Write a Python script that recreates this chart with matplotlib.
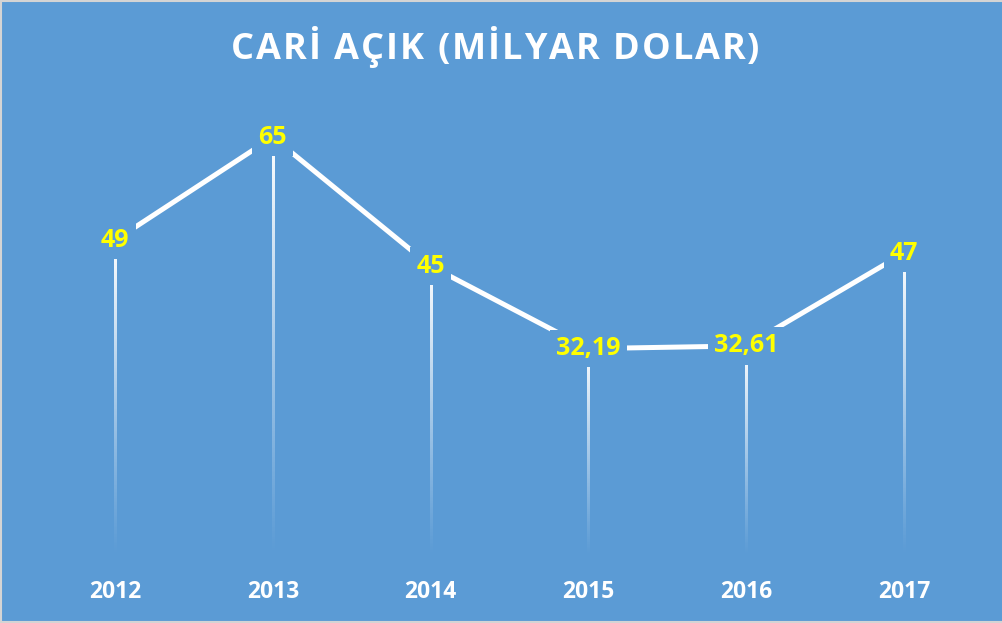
import numpy as np
import matplotlib
matplotlib.use("Agg")
import matplotlib.pyplot as plt
from matplotlib.lines import Line2D

# ── дані ──
years = ["2012", "2013", "2014", "2015", "2016", "2017"]
values = [49, 65, 45, 32.19, 32.61, 47]
value_labels = ["49", "65", "45", "32,19", "32,61", "47"]
title = "CARİ AÇIK (MİLYAR DOLAR)"

BG = "#5B9BD5"
FONT = ["Open Sans", "DejaVu Sans"]

fig = plt.figure(figsize=(10.03, 6.23), dpi=100, facecolor=BG)
ax = fig.add_axes([0.036, 0.1075, 0.944, 0.724])
ax.set_facecolor(BG)
ax.set_xlim(-0.5, len(years) - 0.5)
ax.set_ylim(0, 70)

x = np.arange(len(years))

# ── вертикальні лінії з градієнтом (біле -> прозоре) ──
grad = np.ones((256, 1, 4))
grad[:, 0, 3] = np.linspace(1.0, 0.0, 256) ** 1.1
half_px = 1.1
for xi, v in zip(x, values):
    p0 = ax.transData.transform((xi, 0))
    dx = ax.transData.inverted().transform((p0[0] + half_px, p0[1]))[0] - xi
    ax.imshow(grad, extent=[xi - dx, xi + dx, 0, v], origin="upper",
              aspect="auto", interpolation="bilinear", zorder=2)

# ── основна лінія ──
ax.plot(x, values, color="white", lw=3.6, solid_capstyle="butt", zorder=3)

# ── підписи значень ──
for xi, v, lab in zip(x, values, value_labels):
    ax.text(xi, v, lab, ha="center", va="center", color="#FFFF00",
            fontsize=18, fontweight="bold", family=FONT, zorder=5,
            bbox=dict(boxstyle="square,pad=0.25", fc=BG, ec="none"))

ax.set_xlim(-0.5, len(years) - 0.5)
ax.set_ylim(0, 70)
ax.set_yticks([])
ax.set_xticks(x)
ax.set_xticklabels(years, color="white", fontsize=16.5, fontweight="bold", family=FONT)
ax.tick_params(axis="x", length=0, pad=17)
for s in ax.spines.values():
    s.set_visible(False)

# ── заголовок з розрідженими літерами ──
fig.canvas.draw()
renderer = fig.canvas.get_renderer()
TFS = 26
tracking = 2.0  # px між літерами
chars = []
widths = []
for ch in title:
    t = fig.text(0, 0.919, ch, ha="left", va="center", color="white",
                 fontsize=TFS, fontweight="bold", family=FONT)
    w = t.get_window_extent(renderer).width if ch != " " else None
    chars.append(t)
    widths.append(w)
t1 = fig.text(0, 0, "a a", fontsize=TFS, fontweight="bold", family=FONT)
t2 = fig.text(0, 0, "aa", fontsize=TFS, fontweight="bold", family=FONT)
sw = t1.get_window_extent(renderer).width - t2.get_window_extent(renderer).width
t1.remove()
t2.remove()
widths = [sw if w is None else w for w in widths]
total = sum(widths) + tracking * (len(widths) - 1)
W = fig.bbox.width
cur = 0.494 * W - total / 2
for t, w in zip(chars, widths):
    t.set_x(cur / W)
    cur += w + tracking

# тонка сіра рамка зліва, зверху й знизу
for xs, ys in [([0.001, 0.001], [0, 1]), ([0, 1], [0.999, 0.999]), ([0, 1], [0.002, 0.002])]:
    fig.add_artist(Line2D(xs, ys, color="#d4d4d4", lw=1.5, transform=fig.transFigure))

fig.savefig("out.png", dpi=100, facecolor=BG)
